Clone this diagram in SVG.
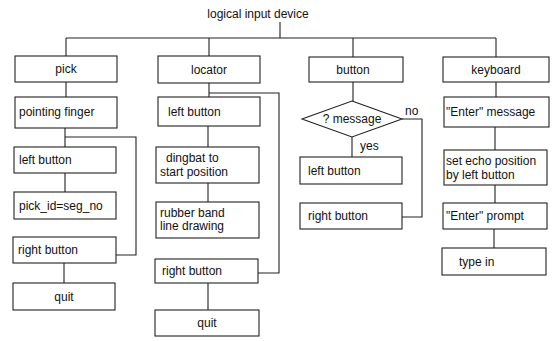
<svg xmlns="http://www.w3.org/2000/svg" width="552" height="341" viewBox="0 0 552 341">
<style>
text{font-family:"Liberation Sans",Arial,sans-serif;font-size:12px;fill:#111;dominant-baseline:central}
.c{text-anchor:middle}
.n{fill:#fff;stroke:#222;stroke-width:1.1}
#connectors path{fill:none;stroke:#222;stroke-width:1.1}
</style>
<rect width="552" height="341" fill="#fff"/>
<text id="title" class="c" x="258" y="14">logical input device</text>
<g id="connectors">
<path d="M280 22V38M66 38H496M66 38V56M209 38V56M353 38V57M496 38V57"/>
<path d="M66 82V97M65 128V147M65 173V192M64 263V283M65 137H136V255H116"/>
<path d="M209 83V97M208 126V147M208 183V202M208 283V310M209 93H279V273H258"/>
<path d="M353 82V101M352 137V157M402 119H422V217H402"/>
<path d="M496 82V97M495 127V150M495 185V203M494 229V248"/>
</g>
<g id="pick"><rect class="n" x="15" y="56" width="102" height="26"/><text class="c" x="66" y="69">pick</text></g>
<g id="pointing_finger"><rect class="n" x="15" y="97" width="102" height="31"/><text x="19" y="112">pointing finger</text></g>
<g id="pick_left_button"><rect class="n" x="14" y="147" width="102" height="26"/><text x="19" y="160">left button</text></g>
<g id="pick_id"><rect class="n" x="14" y="192" width="102" height="27"/><text x="19" y="205.5">pick_id=seg_no</text></g>
<g id="pick_right_button"><rect class="n" x="13" y="237" width="103" height="26"/><text x="18" y="250">right button</text></g>
<g id="pick_quit"><rect class="n" x="13" y="283" width="102" height="27"/><text class="c" x="64" y="296.5">quit</text></g>

<g id="locator"><rect class="n" x="158" y="56" width="102" height="27"/><text class="c" x="209" y="69.5">locator</text></g>
<g id="loc_left_button"><rect class="n" x="158" y="97" width="102" height="29"/><text x="168" y="112">left button</text></g>
<g id="dingbat"><rect class="n" x="156" y="147" width="103" height="36"/><text x="166" y="158">dingbat to</text><text x="160" y="172">start position</text></g>
<g id="rubber_band"><rect class="n" x="156" y="202" width="103" height="36"/><text x="160" y="213">rubber band</text><text x="160" y="226">line drawing</text></g>
<g id="loc_right_button"><rect class="n" x="155" y="259" width="103" height="24"/><text x="162" y="271">right button</text></g>
<g id="loc_quit"><rect class="n" x="155" y="310" width="104" height="26"/><text class="c" x="207" y="323">quit</text></g>

<g id="button"><rect class="n" x="309" y="57" width="94" height="25"/><text class="c" x="353" y="69.5">button</text></g>
<g id="message"><polygon class="n" points="352,101 402,119 352,137 302,119"/><text class="c" x="352" y="119">? message</text></g>
<text id="no" x="405" y="111">no</text>
<text id="yes" x="360" y="146">yes</text>
<g id="btn_left_button"><rect class="n" x="300" y="157" width="102" height="27"/><text x="308" y="170.5">left button</text></g>
<g id="btn_right_button"><rect class="n" x="300" y="203" width="102" height="26"/><text x="308" y="216">right button</text></g>

<g id="keyboard"><rect class="n" x="443" y="57" width="106" height="25"/><text class="c" x="496" y="69.5">keyboard</text></g>
<g id="enter_message"><rect class="n" x="444" y="97" width="105" height="30"/><text x="446" y="112">"Enter" message</text></g>
<g id="set_echo"><rect class="n" x="444" y="150" width="103" height="35"/><text x="446" y="161">set echo position</text><text x="446" y="175">by left button</text></g>
<g id="enter_prompt"><rect class="n" x="443" y="203" width="104" height="26"/><text x="446" y="216">"Enter" prompt</text></g>
<g id="type_in"><rect class="n" x="442" y="248" width="104" height="27"/><text x="459" y="261.5">type in</text></g>
</svg>
